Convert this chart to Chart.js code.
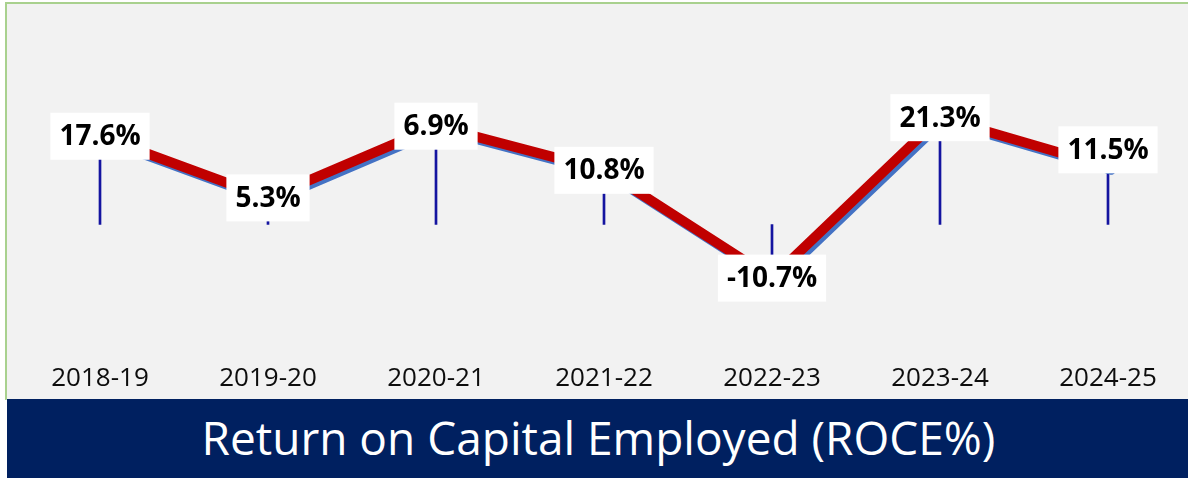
<!DOCTYPE html>
<html>
<head>
<meta charset="utf-8">
<script src="https://cdn.jsdelivr.net/npm/chart.js@4.4.1/dist/chart.umd.min.js"></script>
<style>
  html, body { margin: 0; padding: 0; background: #fff; overflow: hidden; }
  body { width: 1188px; height: 478px; position: relative; }
  .plot-bg {
    position: absolute; left: 5px; top: 2px; width: 1200px; height: 395px;
    background: #f2f2f2;
    border-left: 2px solid #a9d18e; border-top: 2px solid #a9d18e; border-bottom: 1px solid #c5e0b4;
  }
  .chart-box { position: absolute; left: 0; top: 0; width: 1200px; height: 415px; }
  .banner {
    position: absolute; left: 7px; top: 399px; width: 1190px; height: 79px;
    background: #002060; color: #fff;
  }
  .banner h1 {
    margin: 0; position: absolute; left: 0; width: 1183px; top: 7px;
    text-align: center; font: 400 46px "Open Sans", sans-serif; letter-spacing: 0;
  }
</style>
</head>
<body>
<div class="plot-bg"></div>
<div class="chart-box"><canvas id="roceChart" width="1200" height="415"></canvas></div>
<div class="banner"><h1>Return on Capital Employed (ROCE%)</h1></div>

<script>
// ---- Data ----

const years = ['2018-19', '2019-20', '2020-21', '2021-22', '2022-23', '2023-24', '2024-25'];
// plotted level of each point (in %)
const roce = [17.6, 5.3, 19.6, 10.8, -10.7, 21.3, 11.5];
// text shown in the data labels
const roceLabels = ['17.6%', '5.3%', '6.9%', '10.8%', '-10.7%', '21.3%', '11.5%'];

// ---- Plugins ----

// shifts the blue copy of the line down a little so it reads as a shadow
const shadowShift = {
  id: 'shadowShift',
  beforeDatasetDraw(chart, args) {
    if (args.index !== 1) return;
    chart.ctx.save();
    chart.ctx.translate(3, 3);
  },
  afterDatasetDraw(chart, args) {
    if (args.index !== 1) return;
    chart.ctx.restore();
  }
};

// white boxed value labels on the red line
const boxLabels = {
  id: 'boxLabels',
  afterDatasetsDraw(chart) {
    const ctx = chart.ctx;
    const pts = chart.getDatasetMeta(0).data;
    ctx.save();
    ctx.font = 'bold 28px "Open Sans", sans-serif';
    ctx.textAlign = 'center';
    ctx.textBaseline = 'middle';
    pts.forEach((pt, i) => {
      const text = roceLabels[i];
      const w = ctx.measureText(text).width + 18;
      const h = 47;
      // the last label sits a bit above its point in the original
      const y = pt.y + (i === 6 ? -17 : 0);
      ctx.fillStyle = '#ffffff';
      ctx.fillRect(pt.x - w / 2, y - h / 2, w, h);
      ctx.fillStyle = '#000000';
      ctx.fillText(text, pt.x, y + 1);
    });
    ctx.restore();
  }
};

// ---- Chart ----

new Chart(document.getElementById('roceChart'), {
  data: {
    labels: years,
    datasets: [
      {
        type: 'line',
        data: roce,
        borderColor: '#c00000',
        borderWidth: 10,
        borderJoinStyle: 'round',
        borderCapStyle: 'round',
        pointRadius: 0,
        tension: 0,
        order: 0
      },
      {
        type: 'line',
        data: roce,
        borderColor: '#4472c4',
        borderWidth: 10,
        borderJoinStyle: 'round',
        borderCapStyle: 'round',
        pointRadius: 0,
        tension: 0,
        order: 1
      },
      {
        type: 'bar',
        data: roce,
        backgroundColor: '#1414a0',
        barThickness: 2,
        order: 2
      }
    ]
  },
  options: {
    responsive: false,
    devicePixelRatio: 1,
    animation: false,
    layout: { padding: { left: 16, right: 8, top: 49, bottom: 8 } },
    plugins: {
      legend: { display: false },
      tooltip: { enabled: false }
    },
    scales: {
      x: {
        offset: true,
        grid: { display: false, drawTicks: false },
        border: { display: false },
        ticks: {
          color: '#0d0d0d',
          padding: 13,
          font: { family: '"Open Sans", sans-serif', size: 26 }
        }
      },
      y: {
        display: false,
        min: -25,
        max: 35
      }
    }
  },
  plugins: [shadowShift, boxLabels]
});
</script>
</body>
</html>
